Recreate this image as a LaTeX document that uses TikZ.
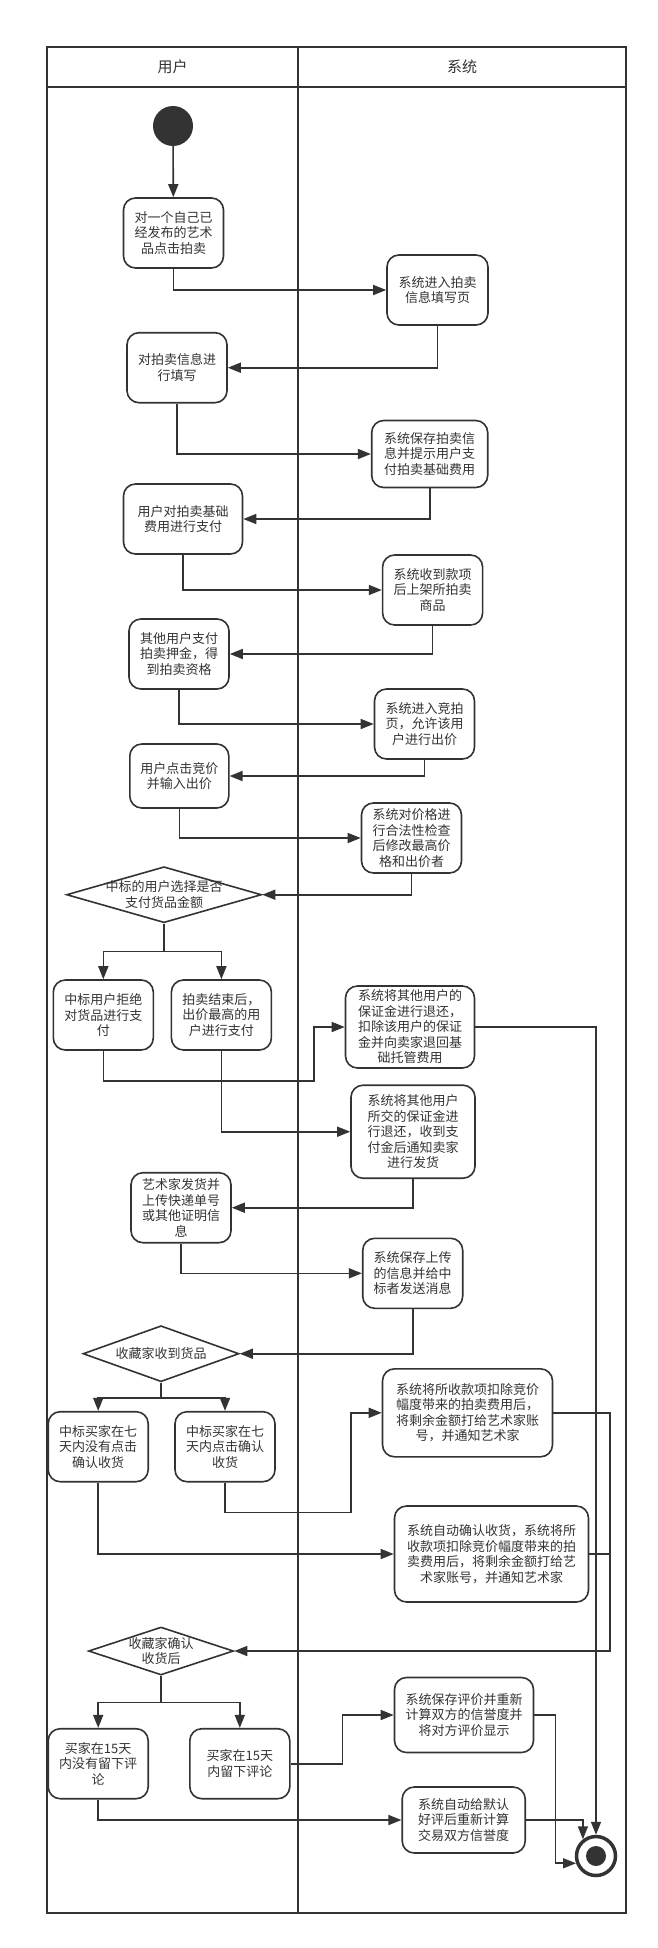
\documentclass[tikz,border=0pt]{standalone}
\usepackage{fontspec}
\newfontfamily\cjk{Noto Sans CJK SC}
\usepackage{tikz}
\usetikzlibrary{positioning,arrows.meta,shapes.geometric}
\definecolor{ink}{HTML}{333333}

\begin{document}
\begin{tikzpicture}[
    x=1pt, y=-1pt,
    every node/.style={text=ink, font={\cjk\fontsize{13pt}{15.5pt}\selectfont}},
    box/.style={
        draw=ink,
        line width=1.6pt,
        rounded corners=12pt,
        align=center,
        inner sep=2pt,
        minimum width=100pt,
        minimum height=70pt
    },
    choice/.style={
        draw=ink,
        line width=1.6pt,
        diamond,
        aspect=3,
        align=center,
        inner sep=-12pt
    },
    arrow/.style={-{Triangle[length=13pt,width=10pt]}, line width=1.6pt, draw=ink},
    line/.style={line width=1.6pt, draw=ink}
]
\useasboundingbox (0,0) rectangle (658,1948);

\draw[ink, line width=2pt] (47,47) rectangle (626,1913);
\draw[ink, line width=2pt] (47,87) -- (626,87);
\draw[ink, line width=2pt] (298,47) -- (298,1913);
\node[font={\cjk\fontsize{15pt}{18pt}\selectfont}] (userlane) at (172.5,67) {用户};
\node[font={\cjk\fontsize{15pt}{18pt}\selectfont}] (syslane) at (462,67) {系统};

\node[circle, fill=ink, minimum size=40pt, inner sep=0] (start) at (173,126) {};
\node[box] (publish) at (173.5,233) {对一个自己已\\经发布的艺术\\品点击拍卖};
\node[box, minimum width=101pt] (enterform) at (437.5,290) {系统进入拍卖\\信息填写页};
\node[box] (fillin) at (177,367.7) {对拍卖信息进\\行填写};
\node[box, minimum width=116pt, minimum height=67pt] (saveinfo) at (429.7,454) {系统保存拍卖信\\息并提示用户支\\付拍卖基础费用};
\node[box, minimum width=119pt] (paybase) at (183,519) {用户对拍卖基础\\费用进行支付};
\node[box] (listing) at (432.6,590) {系统收到款项\\后上架所拍卖\\商品};
\node[box] (deposit) at (179,654) {其他用户支付\\拍卖押金，得\\到拍卖资格};
\node[box] (bidpage) at (424.5,724) {系统进入竞拍\\页，允许该用\\户进行出价};
\node[box, minimum width=99pt, minimum height=64pt] (bid) at (179.3,776) {用户点击竞价\\并输入出价};
\node[box] (check) at (411.5,838) {系统对价格进\\行合法性检查\\后修改最高价\\格和出价者};
\node[choice, minimum width=195pt, minimum height=56pt] (choose) at (164,894.7) {中标的用户选择是否\\支付货品金额};
\node[box] (refuse) at (103.3,1015) {中标用户拒绝\\对货品进行支\\付};
\node[box] (pay) at (221.4,1015) {拍卖结束后，\\出价最高的用\\户进行支付};
\node[box, minimum width=129pt, minimum height=82pt] (refund) at (410,1027) {系统将其他用户的\\保证金进行退还，\\扣除该用户的保证\\金并向卖家退回基\\础托管费用};
\node[box, minimum width=124pt, minimum height=93pt] (notify) at (413,1131.7) {系统将其他用户\\所交的保证金进\\行退还，收到支\\付金后通知卖家\\进行发货};
\node[box] (ship) at (181,1207.7) {艺术家发货并\\上传快递单号\\或其他证明信\\息};
\node[box] (upload) at (412.7,1273.3) {系统保存上传\\的信息并给中\\标者发送消息};
\node[choice, minimum width=156pt, minimum height=56pt] (receive) at (161,1353.7) {收藏家收到货品};
\node[box] (noconfirm) at (98.2,1446.7) {中标买家在七\\天内没有点击\\确认收货};
\node[box] (confirm) at (225,1446.7) {中标买家在七\\天内点击确认\\收货};
\node[box, minimum width=170pt, minimum height=88pt] (settle) at (467.5,1412.8) {系统将所收款项扣除竞价\\幅度带来的拍卖费用后，\\将剩余金额打给艺术家账\\号，并通知艺术家};
\node[box, minimum width=194pt, minimum height=96pt] (autoconfirm) at (491.5,1554) {系统自动确认收货，系统将所\\收款项扣除竞价幅度带来的拍\\卖费用后，将剩余金额打给艺\\术家账号，并通知艺术家};
\node[choice, minimum width=145pt, minimum height=48pt] (confirmed) at (161,1651) {收藏家确认\\收货后};
\node[box] (nocomment) at (98.2,1763.7) {买家在15天\\内没有留下评\\论};
\node[box] (comment) at (239.8,1763.7) {买家在15天\\内留下评论};
\node[box, minimum width=139pt, minimum height=75pt] (rate) at (464,1715) {系统保存评价并重新\\计算双方的信誉度并\\将对方评价显示};
\node[box, minimum width=123pt, minimum height=66pt] (autorate) at (463.7,1820) {系统自动给默认\\好评后重新计算\\交易双方信誉度};
\node[circle, draw=ink, fill=white, line width=3.5pt, minimum size=39pt, inner sep=0,
      path picture={\fill[ink] (path picture bounding box.center) circle (10pt);}] (end) at (596,1856) {};
\coordinate (rbus) at (610,1412.8);

\draw[arrow] (start) -- (publish);
\draw[arrow] (publish.south) |- (enterform.west);
\draw[arrow] (enterform.south) |- (fillin.east);
\draw[arrow] (fillin.south) |- (saveinfo.west);
\draw[arrow] (saveinfo.south) |- (paybase.east);
\draw[arrow] (paybase.south) |- (listing.west);
\draw[arrow] (listing.south) |- (deposit.east);
\draw[arrow] (deposit.south) |- (bidpage.west);
\draw[arrow] (bidpage.south) |- (bid.east);
\draw[arrow] (bid.south) |- (check.west);
\draw[arrow] (check.south) |- (choose.east);
\draw[arrow] (choose.south) -- ++(0,28) -| (refuse.north);
\draw[arrow] (choose.south) -- ++(0,28) -| (pay.north);
\draw[arrow] (refuse.south) -- ++(0,30) -| ([xshift=-31pt]refund.west) -- (refund.west);
\draw[arrow] (pay.south) |- (notify.west);
\draw[arrow] (refund.east) -| (end.north);
\draw[arrow] (notify.south) |- (ship.east);
\draw[arrow] (ship.south) |- (upload.west);
\draw[arrow] (upload.south) |- (receive.east);
\draw[arrow] (receive.south) -- ++(0,15.6) -| (noconfirm.north);
\draw[arrow] (receive.south) -- ++(0,15.6) -| (confirm.north);
\draw[arrow] (confirm.south) -- ++(0,30) -| ([xshift=-31pt]settle.west) -- (settle.west);
\draw[arrow] (noconfirm.south) |- (autoconfirm.west);
\draw[arrow] (settle.east) -- (rbus) |- (confirmed.east);
\draw[line] (autoconfirm.east) -- (autoconfirm.east -| rbus);
\draw[arrow] (confirmed.south) -- ++(0,26.7) -| (nocomment.north);
\draw[arrow] (confirmed.south) -- ++(0,26.7) -| (comment.north);
\draw[arrow] (comment.east) -- ++(52,0) |- (rate.west);
\draw[arrow] (nocomment.south) |- (autorate.west);
\draw[arrow] (rate.east) -- ++(21,0) |- (end.200);
\draw[arrow] (autorate.east) -| (end.128);
\end{tikzpicture}
\end{document}
